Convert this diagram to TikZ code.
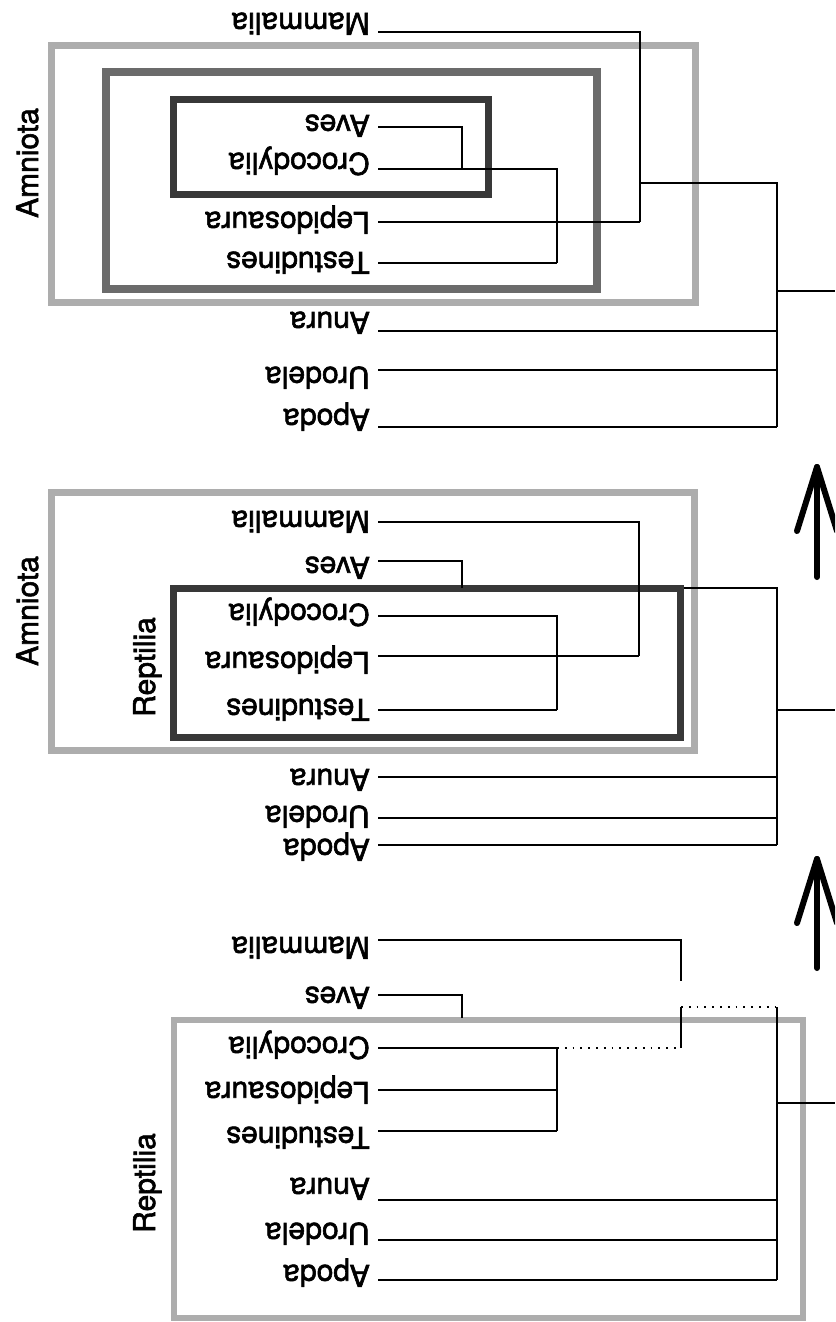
\documentclass[tikz,border=0pt]{standalone}
\usepackage{fontspec}
\setmainfont{TeX Gyre Heros}
\newfontfamily\heavyhv[FakeBold=2]{TeX Gyre Heros}
\begin{document}
\begin{tikzpicture}[x=1pt,y=-1pt,
  taxon/.style={rotate=180,anchor=base west,inner sep=0pt,font=\heavyhv\fontsize{30}{34}\selectfont},
  group/.style={rotate=90,anchor=base,inner sep=0pt,font=\heavyhv\fontsize{30}{34}\selectfont},
  branch/.style={line width=2pt},
  dotbranch/.style={line width=1.8pt,dash pattern=on 1.8pt off 6pt},
  lightbox/.style={draw=black!32,line width=7pt},
  midbox/.style={draw=black!58,line width=8pt},
  darkbox/.style={draw=black!78,line width=7pt},
  bigarrow/.style={line width=6pt,line cap=round,line join=round}]
\useasboundingbox (0,0) rectangle (835,1322);
\clip (0,0) rectangle (835,1322);

% ---------------- coordinates ----------------
\coordinate (m3s) at (378,32);
\coordinate (a3s) at (378,127);
\coordinate (c3s) at (378,169);
\coordinate (l3s) at (378,222);
\coordinate (t3s) at (378,263);
\coordinate (n3s) at (378,331);
\coordinate (u3s) at (378,370);
\coordinate (p3s) at (378,427);

\coordinate (m2s) at (378,522);
\coordinate (a2s) at (378,561);
\coordinate (c2s) at (378,616);
\coordinate (l2s) at (378,656);
\coordinate (t2s) at (378,710);
\coordinate (n2s) at (378,777);
\coordinate (u2s) at (378,818);
\coordinate (p2s) at (378,845);

\coordinate (m1s) at (378,940);
\coordinate (a1s) at (378,995);
\coordinate (c1s) at (378,1048);
\coordinate (l1s) at (378,1090);
\coordinate (t1s) at (378,1131);
\coordinate (n1s) at (378,1200);
\coordinate (u1s) at (378,1240);
\coordinate (p1s) at (378,1280);

\coordinate (A2) at (639,656);
\coordinate (B2) at (462,588);
\coordinate (C2) at (557,710);
\coordinate (D2) at (777,845);
\coordinate (R2) at (777,710);
\coordinate (E2) at (835,710);

% segment of the middle tree hidden under the Reptilia box
\draw[branch] (B2) -| (D2);

% ---------------- boxes ----------------
\draw[lightbox] (51,46) rectangle (695,302);
\draw[midbox] (106,72) rectangle (597,289);
\draw[darkbox] (173,99.5) rectangle (488,194);

\draw[lightbox] (51,492) rectangle (694,750);
\draw[darkbox] (173.5,588.5) rectangle (680,737);

\draw[lightbox,line width=6pt] (174,1020) rectangle (803,1318);

% ---------------- labels: top panel ----------------
\node[taxon] (mam3) at (370,13) {Mammalia};
\node[taxon] (ave3) at (370,115) {Aves};
\node[taxon] (cro3) at (370,153) {Crocodylia};
\node[taxon] (lep3) at (370,212) {Lepidosaura};
\node[taxon] (tes3) at (370,252) {Testudines};
\node[taxon] (anu3) at (370,312) {Anura};
\node[taxon] (uro3) at (370,367) {Urodela};
\node[taxon] (apo3) at (370,409) {Apoda};
\node[group] (amn3) at (38,163) {Amniota};

% ---------------- labels: middle panel ----------------
\node[taxon] (mam2) at (370,511) {Mammalia};
\node[taxon] (ave2) at (370,557) {Aves};
\node[taxon] (cro2) at (370,604) {Crocodylia};
\node[taxon] (lep2) at (370,652) {Lepidosaura};
\node[taxon] (tes2) at (370,699) {Testudines};
\node[taxon] (anu2) at (370,769) {Anura};
\node[taxon] (uro2) at (370,806) {Urodela};
\node[taxon] (apo2) at (370,839) {Apoda};
\node[group] (amn2) at (38,611) {Amniota};
\node[group] (rep2) at (155,667) {Reptilia};

% ---------------- labels: bottom panel ----------------
\node[taxon] (mam1) at (370,937) {Mammalia};
\node[taxon] (ave1) at (370,987) {Aves};
\node[taxon] (cro1) at (370,1037) {Crocodylia};
\node[taxon] (lep1) at (370,1082) {Lepidosaura};
\node[taxon] (tes1) at (370,1127) {Testudines};
\node[taxon] (anu1) at (370,1178) {Anura};
\node[taxon] (uro1) at (370,1223) {Urodela};
\node[taxon] (apo1) at (370,1265) {Apoda};
\node[group] (rep1) at (155,1183) {Reptilia};

% ---------------- top tree ----------------
\coordinate (A3) at (640,222);
\coordinate (B3) at (462,169);
\coordinate (C3) at (557,263);
\coordinate (Q3) at (640,183);
\coordinate (D3) at (777,427);
\coordinate (R3) at (777,291);
\coordinate (E3) at (835,291);
\draw[branch] (m3s) -| (A3);
\draw[branch] (l3s) -- (A3);
\draw[branch] (a3s) -| (B3);
\draw[branch] (c3s) -| (C3);
\draw[branch] (t3s) -- (C3);
\draw[branch] (Q3) -| (D3);
\draw[branch] (n3s) -- (n3s -| D3);
\draw[branch] (u3s) -- (u3s -| D3);
\draw[branch] (p3s) -- (D3);
\draw[branch] (R3) -- (E3);

% ---------------- middle tree ----------------
\coordinate (K2) at (683.5,588);
\draw[branch] (m2s) -| (A2);
\draw[branch] (l2s) -- (A2);
\draw[branch] (a2s) -| (B2);
\draw[branch] (K2) -| (D2);
\draw[branch] (c2s) -| (C2);
\draw[branch] (t2s) -- (C2);
\draw[branch] (n2s) -- (n2s -| D2);
\draw[branch] (u2s) -- (u2s -| D2);
\draw[branch] (p2s) -- (D2);
\draw[branch] (R2) -- (E2);

% ---------------- bottom tree ----------------
\coordinate (M1) at (681,981);
\coordinate (B1) at (462,1018);
\coordinate (C1) at (557,1131);
\coordinate (F1) at (681,1048);
\coordinate (G1) at (681,1007);
\coordinate (H1) at (777,1007);
\coordinate (D1) at (777,1280);
\coordinate (R1) at (777,1103);
\coordinate (E1) at (835,1103);
\draw[branch] (m1s) -| (M1);
\draw[branch] (a1s) -| (B1);
\draw[branch] (c1s) -| (C1);
\draw[branch] (l1s) -- (l1s -| C1);
\draw[branch] (t1s) -- (C1);
\draw[dotbranch] (c1s -| C1) -- (F1);
\draw[branch] (F1) -- (G1);
\draw[dotbranch] (G1) -- (H1);
\draw[branch] (H1) -- (D1);
\draw[branch] (n1s) -- (n1s -| D1);
\draw[branch] (u1s) -- (u1s -| D1);
\draw[branch] (p1s) -- (D1);
\draw[branch] (R1) -- (E1);

% ---------------- big arrows ----------------
\draw[bigarrow] (817,577) -- (817,467);
\draw[bigarrow] (797,531) -- (817,467) -- (837,531);
\draw[bigarrow] (817,968) -- (817,859);
\draw[bigarrow] (797,923) -- (817,859) -- (837,923);
\end{tikzpicture}
\end{document}
